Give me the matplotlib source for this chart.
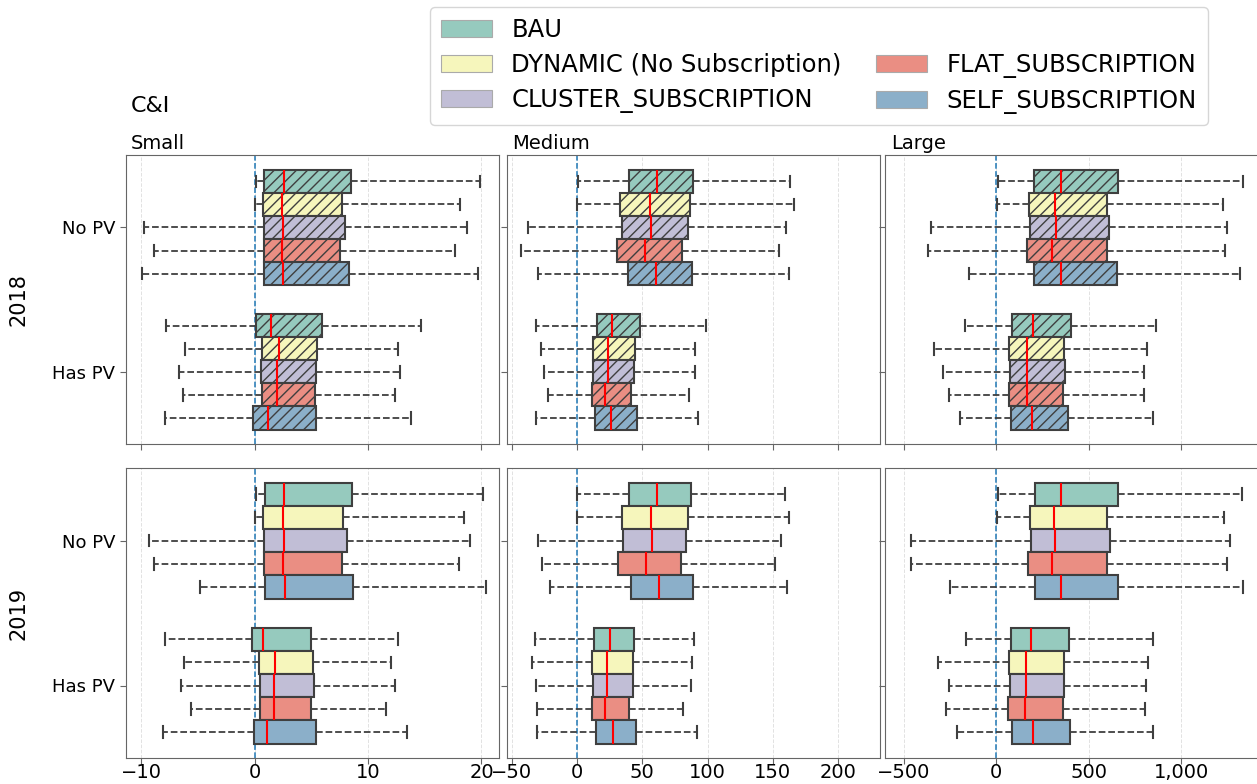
import numpy as np
import matplotlib
matplotlib.use("Agg")
import matplotlib.pyplot as plt
from matplotlib.patches import Patch
from matplotlib.ticker import StrMethodFormatter

# scenario names and box colours (Set3, desaturated)
scenarios = ["BAU", "DYNAMIC (No Subscription)", "CLUSTER_SUBSCRIPTION",
             "FLAT_SUBSCRIPTION", "SELF_SUBSCRIPTION"]
colors = ["#96cabe", "#f6f6bc", "#c1bed6", "#ea8e83", "#8bafc9"]
sizes = ["Small", "Medium", "Large"]
years = ["2018", "2019"]
pv_groups = ["No PV", "Has PV"]

# each row: whisker low, q1, median, q3, whisker high (one row per scenario)
small_2018_nopv = [[0.15, 0.82, 2.62, 8.53, 19.9], [0.06, 0.71, 2.41, 7.71, 18.1],
                   [-9.76, 0.82, 2.53, 7.97, 18.7], [-8.85, 0.85, 2.41, 7.53, 17.7],
                   [-9.94, 0.85, 2.53, 8.35, 19.7]]
small_2018_pv = [[-7.79, 0.12, 1.47, 5.94, 14.7], [-6.15, 0.65, 2.12, 5.50, 12.6],
                 [-6.68, 0.59, 2.00, 5.44, 12.8], [-6.29, 0.68, 2.00, 5.35, 12.4],
                 [-7.91, -0.12, 1.15, 5.44, 13.8]]
medium_2018_nopv = [[0.5, 39.6, 61.4, 88.8, 163.2], [0.0, 32.7, 55.6, 86.8, 166.2],
                    [-37.6, 34.3, 56.9, 84.8, 160.2], [-42.9, 30.2, 52.0, 80.7, 155.1],
                    [-29.9, 39.1, 60.2, 88.3, 162.4]]
medium_2018_pv = [[-31.7, 15.0, 26.9, 48.5, 99.0], [-27.7, 12.2, 23.6, 44.4, 90.1],
                  [-25.4, 12.2, 23.6, 43.9, 90.1], [-22.1, 11.4, 21.6, 41.4, 85.5],
                  [-31.7, 13.5, 25.6, 45.7, 92.6]]
large_2018_nopv = [[7, 204, 347, 657, 1330], [2, 177, 318, 599, 1227],
                   [-352, 179, 321, 608, 1245], [-368, 166, 303, 596, 1235],
                   [-148, 204, 347, 650, 1314]]
large_2018_pv = [[-170, 83, 197, 401, 861], [-338, 67, 166, 365, 816],
                 [-289, 72, 168, 370, 800], [-258, 67, 166, 361, 800],
                 [-195, 78, 191, 386, 845]]
small_2019_nopv = [[0.15, 0.91, 2.62, 8.59, 20.1], [0.06, 0.71, 2.47, 7.82, 18.5],
                   [-9.32, 0.85, 2.62, 8.15, 19.0], [-8.91, 0.85, 2.47, 7.74, 18.06],
                   [-4.85, 0.91, 2.68, 8.68, 20.4]]
small_2019_pv = [[-7.91, -0.21, 0.71, 4.97, 12.6], [-6.26, 0.41, 1.76, 5.12, 12.0],
                 [-6.53, 0.50, 1.71, 5.24, 12.4], [-5.59, 0.50, 1.71, 4.97, 11.6],
                 [-8.06, -0.06, 1.06, 5.38, 13.4]]
medium_2019_nopv = [[0.0, 40.1, 61.4, 87.6, 159.6], [0.0, 34.5, 56.9, 85.3, 162.7],
                    [-29.7, 35.5, 57.4, 83.5, 156.3], [-26.9, 31.7, 52.5, 79.4, 151.5],
                    [-21.1, 41.1, 62.7, 89.1, 160.7]]
medium_2019_pv = [[-32.2, 12.9, 25.4, 43.4, 89.3], [-34.3, 11.7, 22.6, 42.6, 88.3],
                  [-31.7, 12.4, 23.1, 42.6, 87.1], [-30.5, 11.7, 21.3, 40.1, 81.5],
                  [-30.5, 14.5, 27.4, 45.4, 91.9]]
large_2019_nopv = [[7, 208, 348, 657, 1327], [2, 181, 312, 599, 1231],
                   [-462, 186, 319, 614, 1264], [-460, 171, 300, 599, 1244],
                   [-253, 209, 348, 657, 1330]]
large_2019_pv = [[-164, 79, 188, 392, 847], [-314, 69, 162, 368, 821],
                 [-256, 72, 162, 365, 810], [-274, 63, 153, 361, 803],
                 [-213, 85, 197, 397, 847]]

panels = {
    ("2018", "Small"): [small_2018_nopv, small_2018_pv],
    ("2018", "Medium"): [medium_2018_nopv, medium_2018_pv],
    ("2018", "Large"): [large_2018_nopv, large_2018_pv],
    ("2019", "Small"): [small_2019_nopv, small_2019_pv],
    ("2019", "Medium"): [medium_2019_nopv, medium_2019_pv],
    ("2019", "Large"): [large_2019_nopv, large_2019_pv],
}
xlims = {"Small": (-11.4, 21.5), "Medium": (-54, 232), "Large": (-600, 1415)}
xticks = {"Small": [-10, 0, 10, 20], "Medium": [-50, 0, 50, 100, 150, 200],
          "Large": [-500, 0, 500, 1000]}

W, H = 1257, 784
fig = plt.figure(figsize=(W / 100, H / 100), dpi=100)

col_left = [125.5, 506.7, 885.3]
row_top = [155.3, 468]
row_h = [288.7, 290]
ax_w = 373

line_col = "#3f3f3f"
box_w = 0.16
offsets = (np.arange(5) - 2) * box_w

for r, year in enumerate(years):
    for c, size in enumerate(sizes):
        ax = fig.add_axes([col_left[c] / W, 1 - (row_top[r] + row_h[r]) / H,
                           ax_w / W, row_h[r] / H])
        ax.grid(axis="x", color="#e2e2e2", linestyle="--", linewidth=0.7)
        ax.set_axisbelow(True)
        ax.axvline(0, color="#1f77b4", linestyle="--", linewidth=1.1, zorder=1)
        for g, group in enumerate(panels[(year, size)]):
            for k, (lo, q1, med, q3, hi) in enumerate(group):
                st = [{"whislo": lo, "q1": q1, "med": med, "q3": q3,
                       "whishi": hi, "fliers": []}]
                res = ax.bxp(st, positions=[g + offsets[k]], widths=[box_w],
                             orientation="horizontal", patch_artist=True,
                             showfliers=False, manage_ticks=False,
                             boxprops=dict(facecolor=colors[k], edgecolor=line_col,
                                           linewidth=1.5),
                             whiskerprops=dict(color=line_col, linestyle="--",
                                               linewidth=1.3),
                             capprops=dict(color=line_col, linewidth=1.5),
                             medianprops=dict(color="red", linewidth=1.5))
                if year == "2018":
                    for b in res["boxes"]:
                        b.set_hatch("///")
        ax.set_ylim(1.5, -0.5)
        ax.set_yticks([0, 1])
        ax.set_xlim(*xlims[size])
        ax.set_xticks(xticks[size])
        ax.xaxis.set_major_formatter(StrMethodFormatter("{x:,.0f}"))
        ax.tick_params(axis="x", labelsize=14, length=4, pad=-0.3, color="0.4")
        ax.tick_params(axis="y", labelsize=13, length=4, color="0.4")
        for s in ax.spines.values():
            s.set_color("0.4")
        if c == 0:
            ax.set_yticklabels(pv_groups)
            ax.set_ylabel(year, fontsize=15, labelpad=17)
        else:
            ax.set_yticklabels([])
        if r == 0:
            ax.text(0.015, 1.008, size, transform=ax.transAxes, fontsize=14,
                    ha="left", va="bottom")
            ax.set_xticklabels([])

fig.text(131 / W, 1 - 106 / H, "C&I", fontsize=16, va="center", ha="left")

handles = [Patch(facecolor=colors[i], edgecolor="#aaaaaa", linewidth=0.8,
                 label=scenarios[i]) for i in range(3)]
handles.append(Patch(visible=False, label=""))
handles += [Patch(facecolor=colors[i], edgecolor="#aaaaaa", linewidth=0.8,
                  label=scenarios[i]) for i in range(3, 5)]
fig.legend(handles=handles, labels=[h.get_label() for h in handles], ncol=2,
           fontsize=17.5, loc="upper left", bbox_to_anchor=(430 / W, 1 - 7 / H),
           borderaxespad=0, borderpad=0.45, labelspacing=0.45,
           handlelength=2.1, handletextpad=0.8, columnspacing=1.4)

fig.savefig("out.png", dpi=100)
